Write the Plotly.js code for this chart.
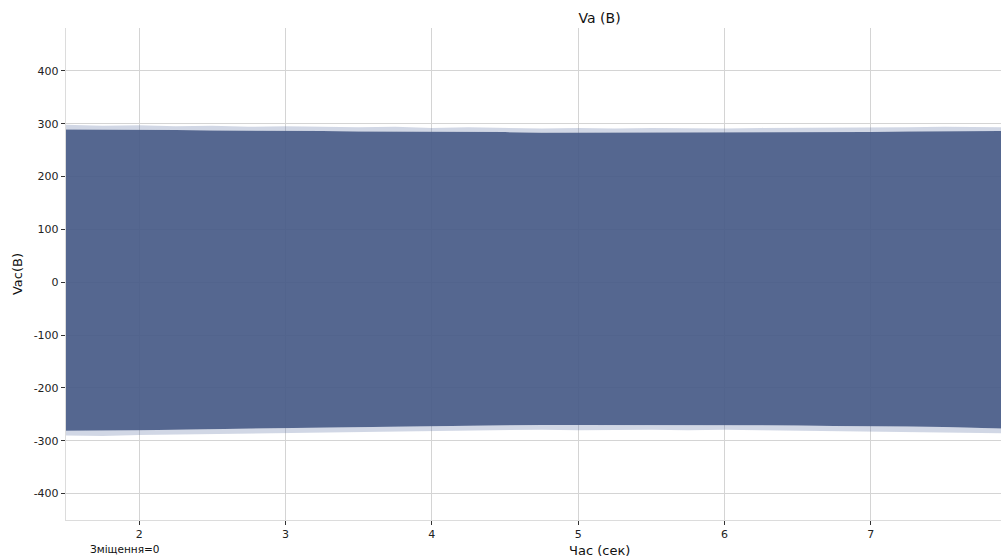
<!DOCTYPE html>
<html>
<head>
<meta charset="utf-8">
<script src="https://cdn.plot.ly/plotly-3.0.1.min.js"></script>
<style>html,body{margin:0;padding:0;background:#fff;}#chart{width:1001px;height:560px;}</style>
</head>
<body>
<div id="chart"></div>
<script>
// Envelope of the dense Va waveform (seconds, volts)
var timeSec = [1.5,1.75,2.0,2.25,2.5,2.75,3.0,3.25,3.5,3.75,4.0,4.25,4.5,4.75,5.0,5.25,5.5,5.75,6.0,6.25,6.5,6.75,7.0,7.25,7.5,7.75,7.89];
var upperPeak = [298,296,297,295,296,294,295,294,293,294,292,293,292,291,292,291,292,291,291,292,292,293,292,293,294,294,293];
var upperCore = [289,289,288,288,287,287,286,286,285,285,285,284,284,283,283,283,283,283,283,284,284,284,284,285,285,286,286];
var lowerCore = [-281,-281,-280,-279,-278,-277,-276,-275,-275,-274,-273,-272,-271,-270,-270,-270,-270,-270,-270,-271,-271,-272,-272,-273,-274,-276,-277];
var lowerPeak = [-290,-291,-289,-288,-287,-286,-285,-284,-284,-283,-282,-281,-280,-279,-280,-279,-279,-280,-279,-280,-281,-281,-282,-283,-284,-285,-286];

var xTicks = [2,3,4,5,6,7];
var yTicks = [-400,-300,-200,-100,0,100,200,300,400];
var yTickLabels = ['-400','-300','-200','-100','0','100','200','300','400'];

var solid = 'rgba(70,90,135,0.92)';
var fuzzy = 'rgba(90,110,160,0.28)';
var font = 'DejaVu Sans, sans-serif';

var traces = [
  {x: timeSec, y: upperPeak, mode: 'lines', line: {width: 0}, hoverinfo: 'skip', showlegend: false},
  {x: timeSec, y: upperCore, mode: 'lines', line: {width: 0}, fill: 'tonexty', fillcolor: fuzzy, showlegend: false},
  {x: timeSec, y: lowerCore, mode: 'lines', line: {width: 0}, fill: 'tonexty', fillcolor: solid, name: 'Va', showlegend: false},
  {x: timeSec, y: lowerPeak, mode: 'lines', line: {width: 0}, fill: 'tonexty', fillcolor: fuzzy, showlegend: false}
];

var layout = {
  width: 1001, height: 560,
  margin: {l: 66, r: 0, t: 28, b: 40},
  paper_bgcolor: '#ffffff', plot_bgcolor: '#ffffff',
  font: {family: font, size: 11, color: '#222'},
  title: {text: 'Va (B)', font: {family: font, size: 14, color: '#111'},
          x: 0.599, xref: 'container', xanchor: 'center', y: 0.968, yref: 'container', yanchor: 'middle'},
  xaxis: {
    range: [1.5, 7.89], tickvals: xTicks, ticks: 'outside', ticklen: 4, tickcolor: '#333',
    showgrid: true, gridcolor: '#d4d4d4', gridwidth: 1, zeroline: false,
    showline: true, linecolor: '#dcdcdc', linewidth: 1.2,
    tickfont: {family: font, size: 11, color: '#222'}
  },
  yaxis: {
    range: [-450, 481], tickvals: yTicks, ticktext: yTickLabels, ticks: 'outside', ticklen: 4, tickcolor: '#333',
    showgrid: true, gridcolor: '#d4d4d4', gridwidth: 1, zeroline: false,
    showline: true, linecolor: '#dcdcdc', linewidth: 1.2,
    tickfont: {family: font, size: 11, color: '#222'},
    title: {text: 'Vac(B)', font: {family: font, size: 13, color: '#111'}, standoff: 8}
  },
  annotations: [
    {text: 'Час (сек)', xref: 'paper', yref: 'paper', x: 0.571, y: -0.063, xanchor: 'center', yanchor: 'middle',
     showarrow: false, font: {family: font, size: 13, color: '#111'}},
    {text: 'Зміщення=0', xref: 'paper', yref: 'paper', x: 0.0235, y: -0.058, xanchor: 'left', yanchor: 'middle',
     showarrow: false, font: {family: font, size: 10.5, color: '#111'}}
  ]
};

Plotly.newPlot('chart', traces, layout, {displayModeBar: false, staticPlot: true});
</script>
</body>
</html>
